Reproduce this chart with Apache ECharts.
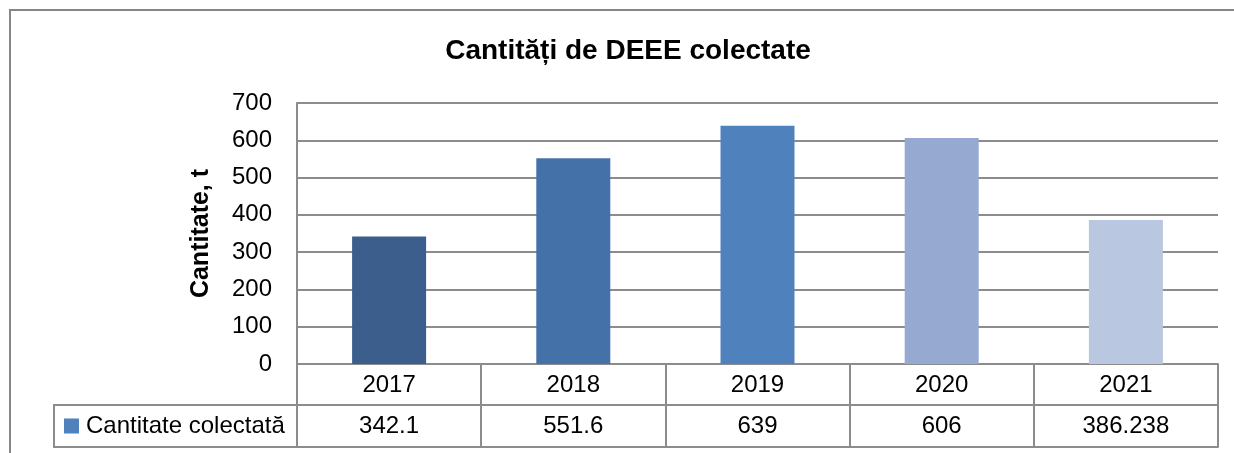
<!DOCTYPE html>
<html>
<head>
<meta charset="utf-8">
<title>Cantități de DEEE colectate</title>
<script src="https://cdn.jsdelivr.net/npm/echarts@6/dist/echarts.min.js"></script>
<style>
  html, body { margin: 0; padding: 0; background: #ffffff; overflow: hidden; }
  #chart { width: 1234px; height: 453px; }
</style>
</head>
<body>
<div id="chart"></div>
<script>
// Years shown on the category axis and in the table header row
const years = ['2017', '2018', '2019', '2020', '2021'];
// Collected quantities (tonnes), also printed in the data table row
const quantities = [342.1, 551.6, 639, 606, 386.238];
// One fill per year, dark to light
const barColors = ['#3B5E8C', '#4472A8', '#4F81BD', '#95A9D1', '#BAC7E0'];
// Value axis ticks
const yTicks = [0, 100, 200, 300, 400, 500, 600, 700];

const seriesName = 'Cantitate colectată';
const FONT = 'Liberation Sans';
const GRID_GRAY = '#8c8c8c';

const chart = echarts.init(document.getElementById('chart'), null, { renderer: 'canvas' });

const gridLeft = 297, gridRight = 16, gridTop = 103, gridBottom = 89;
const rowH = 41;

chart.setOption({
  backgroundColor: '#ffffff',
  animation: false,
  title: {
    text: 'Cantități de DEEE colectate',
    left: 628,
    textAlign: 'center',
    top: 37,
    padding: 0,
    textStyle: { fontFamily: FONT, fontSize: 28, fontWeight: 'bold', color: '#000' }
  },
  legend: {
    data: [seriesName],
    left: 64,
    top: 414,
    padding: 0,
    icon: 'rect',
    itemWidth: 15,
    itemHeight: 15,
    itemGap: 6,
    selectedMode: false,
    textStyle: { fontFamily: FONT, fontSize: 24, color: '#000', padding: [0, 0, 0, 2] }
  },
  grid: { left: gridLeft, right: gridRight, top: gridTop, bottom: gridBottom, containLabel: false },
  xAxis: [
    {
      // header row of the data table: years
      type: 'category',
      data: years,
      position: 'bottom',
      axisLine: { show: true, lineStyle: { color: GRID_GRAY, width: 2 } },
      axisTick: { show: true, length: rowH, interval: 0, lineStyle: { color: GRID_GRAY, width: 2 } },
      axisLabel: { interval: 0, margin: 9, fontFamily: FONT, fontSize: 24, color: '#000' },
      splitLine: { show: false }
    },
    {
      // value row of the data table
      type: 'category',
      data: years,
      position: 'bottom',
      offset: rowH,
      axisLine: { show: true, lineStyle: { color: GRID_GRAY, width: 2 } },
      axisTick: { show: true, length: rowH + 1, interval: 0, lineStyle: { color: GRID_GRAY, width: 2 } },
      axisLabel: {
        interval: 0, margin: 9, fontFamily: FONT, fontSize: 24, color: '#000',
        formatter: (v, i) => String(quantities[i])
      },
      splitLine: { show: false }
    },
    {
      // bottom border of the data table
      type: 'category',
      data: years,
      position: 'bottom',
      offset: rowH * 2 + 1,
      axisLine: { show: true, lineStyle: { color: GRID_GRAY, width: 2 } },
      axisTick: { show: false },
      axisLabel: { show: false },
      splitLine: { show: false }
    }
  ],
  yAxis: {
    type: 'value',
    min: yTicks[0],
    max: yTicks[yTicks.length - 1],
    interval: yTicks[1] - yTicks[0],
    name: 'Cantitate, t',
    nameLocation: 'middle',
    nameGap: 83,
    nameTextStyle: { fontFamily: FONT, fontSize: 25, fontWeight: 'bold', color: '#000' },
    axisLine: { show: true, lineStyle: { color: GRID_GRAY, width: 2 } },
    axisTick: { show: false },
    axisLabel: { margin: 25, fontFamily: FONT, fontSize: 24, color: '#000' },
    splitLine: { show: true, lineStyle: { color: GRID_GRAY, width: 2 } }
  },
  series: [{
    name: seriesName,
    type: 'bar',
    xAxisIndex: 0,
    barWidth: 74,
    itemStyle: { color: '#4F81BD' },
    data: quantities.map((v, i) => ({ value: v, itemStyle: { color: barColors[i] } }))
  }],
  graphic: [
    {
      // outer chart frame: left and top edges (the rest runs off the page)
      type: 'polyline',
      z: -1,
      shape: { points: [[10, 480], [10, 10], [1260, 10]] },
      style: { fill: 'none', stroke: '#868686', lineWidth: 2 }
    },
    {
      // legend key cell of the data table
      type: 'rect',
      shape: { x: 54, y: 453 - gridBottom + rowH, width: gridLeft - 54, height: rowH + 1 },
      style: { fill: 'none', stroke: GRID_GRAY, lineWidth: 2 }
    }
  ]
});
</script>
</body>
</html>
